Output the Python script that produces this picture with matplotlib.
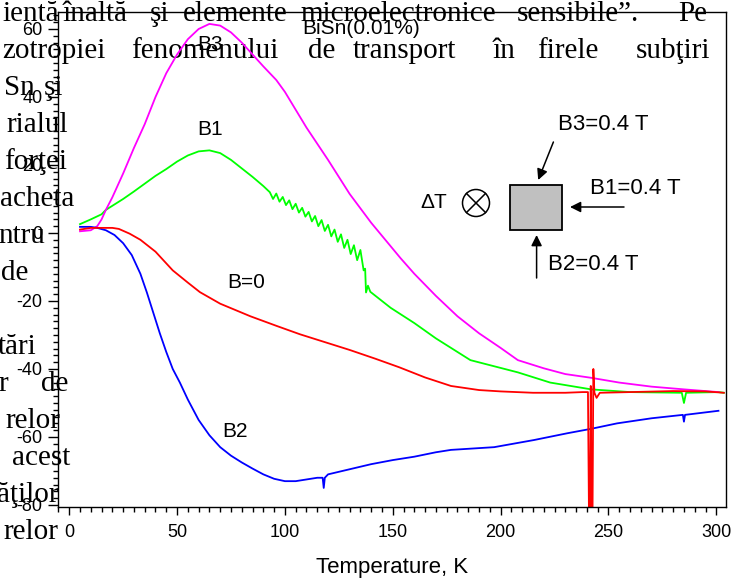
import matplotlib
matplotlib.use("Agg")
import matplotlib.pyplot as plt
from matplotlib.transforms import Affine2D
from matplotlib.patches import Rectangle, Circle, FancyArrowPatch
from matplotlib.lines import Line2D
from matplotlib.ticker import MultipleLocator

plt.rcParams["axes.unicode_minus"] = False

# ---------------------------------------------------------------- data
# Thermopower of BiSn(0.01%) wire vs temperature, for B = 0 and for a
# 0.4 T field applied along three directions (B1, B2, B3).
t_b0 = [5, 10, 15, 20, 23, 28, 33, 40, 48, 55, 60.6, 70, 84, 96, 107, 118, 130,
        142, 153, 165, 177, 190, 200, 215, 230, 238, 240.5,
        241.0, 241.4, 241.8, 242.2, 242.6, 243.0, 243.5, 244.5, 246,
        260, 280, 295, 303.5]
v_b0 = [1.0, 1.5, 1.5, 1.5, 1.2, -0.2, -2.0, -5.5, -11.0, -14.6, -17.4, -20.8,
        -24.5, -27.3, -29.8, -32.0, -34.4, -37.0, -39.5, -42.5, -45.0, -46.2,
        -46.6, -47.0, -47.0, -46.8, -46.8,
        -85.0, -85.0, -45.0, -85.0, -85.0, -40.0, -47.0, -48.5, -47.0,
        -46.8, -46.5, -46.6, -47.0]

t_b1 = [5, 10, 15, 17, 20, 25, 30, 35, 40, 45, 50, 55, 60, 65, 70, 75, 80, 85, 90,
        93, 94.5, 96, 97.5, 99, 100.5, 102, 103.5, 105, 106.5, 108, 109.5, 111,
        112.5, 114, 115.5, 117, 118.5, 120, 121.5, 123, 124.5, 126, 127.5, 129,
        130.5, 132, 133.5, 135, 136.5, 137.2, 137.6, 138.5, 139.6,
        149, 160, 170, 180, 186, 208, 223, 242, 260, 284, 285, 286, 301, 303.5]
v_b1 = [2.6, 4.0, 5.5, 6.8, 8.0, 10.0, 12.2, 14.5, 16.8, 18.8, 21.0, 22.8, 24.0,
        24.3, 23.5, 21.5, 19.0, 16.5, 13.8,
        12.0, 10.0, 11.6, 9.2, 10.6, 8.2, 9.6, 7.0, 8.6, 6.0, 7.4, 4.8, 6.2,
        3.4, 5.0, 2.0, 3.8, 0.6, 2.4, -1.0, 1.0, -2.6, -0.4, -4.4, -2.0,
        -6.2, -3.6, -8.0, -5.0, -11.0, -10.5, -17.5, -15.5, -17.3,
        -22.0, -26.5, -31.0, -35.0, -37.4, -41.0, -44.0, -46.0, -46.8, -47.0,
        -50.0, -47.0, -46.8, -47.0]

t_b2 = [5, 10, 13, 17, 21, 25, 29, 33, 36, 39, 42, 45, 48, 51.3, 55, 60, 65, 70,
        75, 80, 85, 90, 95, 100, 105, 110, 115, 117.5, 118, 118.5, 120, 130, 140,
        150, 160, 170, 177, 197, 215.5, 231, 242, 254, 270, 284.5, 285, 285.5,
        301]
v_b2 = [1.8, 1.8, 1.5, 0.8, -0.6, -3.0, -6.5, -12.0, -17.5, -23.5, -29.5, -35.0,
        -40.0, -44.0, -49.0, -55.0, -59.5, -63.0, -65.5, -67.5, -69.3, -71.0,
        -72.3, -73.0, -73.0, -72.5, -72.0, -72.0, -75.0, -72.0, -71.0, -69.5,
        -68.0, -66.8, -65.8, -64.5, -63.8, -63.0, -60.9, -58.9, -57.6, -56.0,
        -54.5, -53.5, -55.5, -53.5, -52.3]

t_b3 = [5, 10, 13, 15, 17, 20, 25, 30, 35, 40, 45, 50, 55, 60, 65, 70, 75, 80, 85,
        90, 96, 100, 110, 120, 130, 140, 153.6, 160, 170, 180, 190, 200, 208, 220,
        230, 242, 255, 270, 285, 301]
v_b3 = [0.5, 0.8, 2.0, 4.0, 6.8, 10.5, 17.5, 25.0, 32.0, 40.0, 47.0, 52.5, 57.0,
        60.0, 61.5, 61.0, 59.0, 56.0, 52.5, 49.0, 45.0, 41.5, 31.0, 21.5, 11.5,
        3.0, -7.4, -12.0, -18.5, -24.5, -29.5, -33.8, -37.4, -39.8, -41.5, -42.6,
        -44.0, -45.2, -46.0, -46.8]

x_ticks = [0, 50, 100, 150, 200, 250, 300]
y_ticks = [-80, -60, -40, -20, 0, 20, 40, 60]

# surrounding page text (word, x in px, baseline in px, alignment)
page_words = [
    ("ientă", 2, 21, "left"), ("înaltă", 63, 21, "left"), ("şi", 150, 21, "left"),
    ("elemente", 183, 21, "left"), ("microelectronice", 300, 21, "left"),
    ("sensibile”.", 517, 21, "left"), ("Pe", 707, 21, "right"),
    ("zotropiei", 2, 58, "left"), ("fenomenului", 131, 58, "left"),
    ("de", 308, 58, "left"), ("transport", 353, 58, "left"),
    ("în", 493, 58, "left"), ("firele", 537, 58, "left"),
    ("subţiri", 710, 58, "right"),
    ("Sn", 35, 95, "right"), ("şi", 63, 95, "right"),
    ("rialul", 68, 132, "right"),
    ("forţei", 67, 169, "right"),
    ("acheta", 74, 206, "right"),
    ("ntru", 45, 243, "right"),
    ("de", 28, 280, "right"),
    ("tări", 37, 354, "right"),
    ("r", 8, 391, "right"), ("de", 68, 391, "right"),
    ("relor", 60, 428, "right"),
    ("acest", 70, 465, "right"),
    ("ăţilor", 58, 502, "right"),
    ("relor", 58, 539, "right"),
]

# ---------------------------------------------------------------- figure
W, H = 731, 581
fig = plt.figure(figsize=(W / 100, H / 100), dpi=100)
fig.patch.set_facecolor("white")
px = Affine2D().scale(1 / W, -1 / H).translate(0, 1) + fig.transFigure

for word, x, y, ha in page_words:
    fig.text(x, y, word, transform=px, ha=ha, va="baseline",
             family="Liberation Serif", fontsize=21, color="black", zorder=0)

ax = fig.add_axes([58 / W, 1 - 507 / H, (726 - 58) / W, (507 - 12) / H])
ax.patch.set_alpha(0)
ax.set_zorder(2)

sans = "Liberation Sans"
lw = 1.3
ax.plot(t_b1, v_b1, color="#00ff00", lw=lw)
ax.plot(t_b3, v_b3, color="#ff00ff", lw=lw)
ax.plot(t_b2, v_b2, color="#0000ff", lw=lw)
ax.plot(t_b0, v_b0, color="#ff0000", lw=lw)

ax.set_xlim(-5.2, 304.5)
ax.set_ylim(-80.6, 65.0)
ax.set_xticks(x_ticks)
ax.set_yticks(y_ticks)
ax.xaxis.set_minor_locator(MultipleLocator(5))
ax.yaxis.set_minor_locator(MultipleLocator(2))
for s in ax.spines.values():
    s.set_linewidth(1.0)
ax.tick_params(axis="x", which="major", direction="out", length=6, width=1,
               labelsize=13, pad=6)
ax.tick_params(axis="y", which="major", direction="out", length=7, width=1,
               labelsize=13, pad=4)
ax.tick_params(which="minor", direction="out", length=3.5, width=1)
for lab in ax.get_xticklabels() + ax.get_yticklabels():
    lab.set_family(sans)
ax.set_xlabel("Temperature, K", family=sans, fontsize=16, labelpad=12)

# curve labels
ax.text(65.3, 55.3, "B3", family=sans, fontsize=15, ha="center", va="center")
ax.text(65.3, 30.3, "B1", family=sans, fontsize=15, ha="center", va="center")
ax.text(82.0, -14.6, "B=0", family=sans, fontsize=15, ha="center", va="center")
ax.text(77.0, -58.5, "B2", family=sans, fontsize=15, ha="center", va="center")

# sample name
fig.text(361, 28, "BiSn(0.01%)", transform=px, family=sans, fontsize=15,
         ha="center", va="center", zorder=3)

# field geometry sketch
fig.add_artist(Rectangle((510, 185), 52, 45, transform=px, facecolor="#c0c0c0",
                         edgecolor="black", lw=1.3, zorder=3))
fig.add_artist(Circle((476, 203), 13.5, transform=px, facecolor="none",
                      edgecolor="black", lw=1.1, zorder=3))
d = 9.5
fig.add_artist(Line2D([476 - d, 476 + d], [203 - d, 203 + d], transform=px,
                      color="black", lw=1.1, zorder=3))
fig.add_artist(Line2D([476 - d, 476 + d], [203 + d, 203 - d], transform=px,
                      color="black", lw=1.1, zorder=3))
fig.text(434, 203, "ΔT", transform=px, family=sans, fontsize=15,
         ha="center", va="center", zorder=3)

for p0, p1 in [((553.4, 142), (538.2, 180)),
               ((624, 207), (570, 207)),
               ((536.6, 278), (536.6, 235))]:
    fig.add_artist(FancyArrowPatch(p0, p1, transform=px, arrowstyle="-|>",
                                   mutation_scale=16, color="black", lw=1.1,
                                   shrinkA=0, shrinkB=0, zorder=3))

fig.text(558, 124, "B3=0.4 T", transform=px, family=sans, fontsize=16,
         ha="left", va="center", zorder=3)
fig.text(590, 189, "B1=0.4 T", transform=px, family=sans, fontsize=16,
         ha="left", va="center", zorder=3)
fig.text(548, 265, "B2=0.4 T", transform=px, family=sans, fontsize=16,
         ha="left", va="center", zorder=3)

fig.savefig("out.png", dpi=100)
